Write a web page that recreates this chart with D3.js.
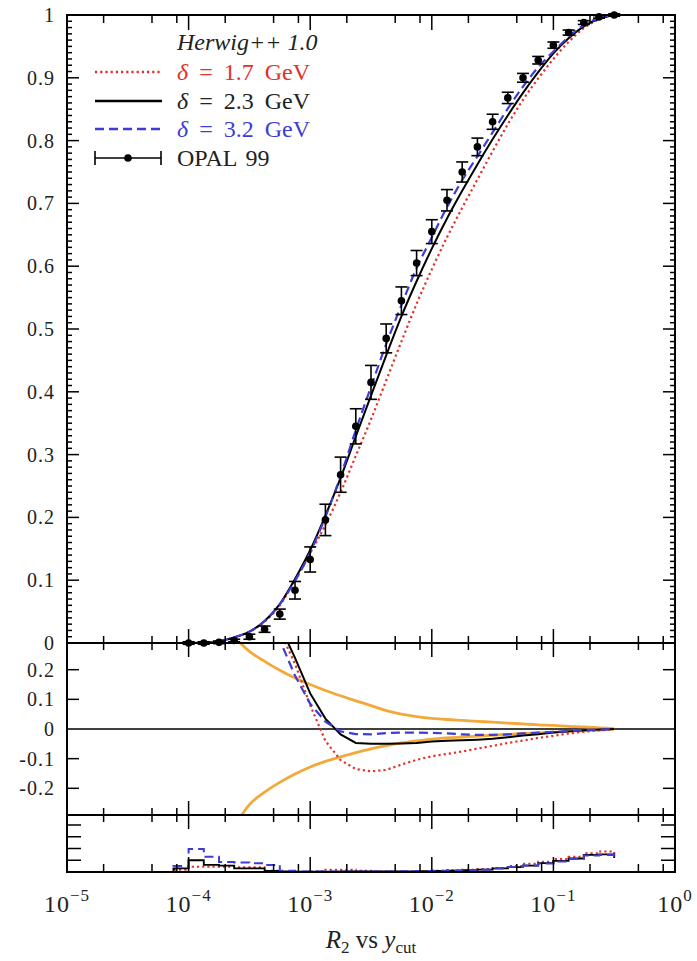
<!DOCTYPE html>
<html>
<head>
<meta charset="utf-8">
<script src="https://cdn.jsdelivr.net/npm/d3@7"></script>
<style>
  body { margin: 0; background: #fff; }
  svg { display: block; font-family: "Liberation Serif", "DejaVu Serif", serif; }
</style>
</head>
<body>
<svg id="chart"></svg>
<script>
// R2 vs ycut : Herwig++ 1.0 vs OPAL 99

// ---- data ----
// OPAL 99 : log10(ycut), R2, error
const opalExp = [-4, -3.875, -3.75, -3.625, -3.5, -3.375, -3.25, -3.125, -3, -2.875, -2.75, -2.625, -2.5, -2.375,
  -2.25, -2.125, -2, -1.875, -1.75, -1.625, -1.5, -1.375, -1.25, -1.125, -1, -0.875, -0.75, -0.625, -0.5];
const opalR2 = [0, 0, 0.001, 0.004, 0.01, 0.022, 0.046, 0.084, 0.133, 0.196, 0.268, 0.345, 0.415, 0.485,
  0.545, 0.605, 0.655, 0.705, 0.75, 0.79, 0.83, 0.868, 0.9, 0.928, 0.952, 0.972, 0.988, 0.997, 1.0];
const opalErr = [0.002, 0.002, 0.002, 0.002, 0.004, 0.005, 0.008, 0.014, 0.02, 0.025, 0.028, 0.028, 0.027, 0.023,
  0.022, 0.02, 0.019, 0.017, 0.016, 0.014, 0.012, 0.009, 0.007, 0.006, 0.005, 0.004, 0.003, 0.002, 0.002];

// Herwig++ curves (main panel)
const curveExp = [-5, -4.5, -4.125, -4, -3.875, -3.75, -3.625, -3.5, -3.375, -3.25, -3.125, -3, -2.875, -2.75,
  -2.625, -2.5, -2.375, -2.25, -2.125, -2, -1.875, -1.75, -1.625, -1.5, -1.375, -1.25, -1.125, -1, -0.875,
  -0.75, -0.625, -0.5];
const r2Delta17 = [0, 0, 0, 0, 0.0008, 0.003, 0.009, 0.018, 0.034, 0.06, 0.1, 0.143, 0.188, 0.24,
  0.298, 0.356, 0.418, 0.48, 0.54, 0.595, 0.646, 0.693, 0.738, 0.783, 0.826, 0.865, 0.899, 0.93, 0.957,
  0.979, 0.993, 1.0];
const r2Delta23 = [0, 0, 0, 0, 0.0008, 0.003, 0.009, 0.018, 0.035, 0.062, 0.102, 0.148, 0.203, 0.263,
  0.329, 0.394, 0.458, 0.52, 0.576, 0.628, 0.676, 0.72, 0.762, 0.802, 0.84, 0.876, 0.909, 0.939, 0.963,
  0.982, 0.994, 1.0];
const r2Delta32 = [0, 0, 0, 0, 0.0008, 0.003, 0.009, 0.018, 0.035, 0.062, 0.099, 0.144, 0.201, 0.266,
  0.339, 0.408, 0.476, 0.538, 0.597, 0.646, 0.694, 0.737, 0.775, 0.813, 0.851, 0.886, 0.917, 0.942, 0.965,
  0.984, 0.995, 1.0];

// ratio panel
const ratioExp = [-3.375, -3.25, -3.125, -3, -2.875, -2.75, -2.625, -2.5, -2.375, -2.25, -2.125, -2,
  -1.875, -1.75, -1.625, -1.5, -1.375, -1.25, -1.125, -1, -0.875, -0.75, -0.625, -0.5];
const ratio17 = [0.6, 0.33, 0.22, 0.08, -0.04, -0.105, -0.135, -0.143, -0.138, -0.12, -0.104, -0.092,
  -0.084, -0.076, -0.066, -0.057, -0.047, -0.039, -0.03, -0.023, -0.015, -0.009, -0.004, 0];
const ratio23 = [0.6, 0.35, 0.24, 0.12, 0.035, -0.018, -0.047, -0.05, -0.05, -0.049, -0.047, -0.042,
  -0.04, -0.038, -0.036, -0.033, -0.028, -0.022, -0.018, -0.012, -0.008, -0.004, -0.002, 0];
const ratio32 = [0.5, 0.3, 0.18, 0.085, 0.025, -0.008, -0.017, -0.018, -0.014, -0.012, -0.012, -0.013,
  -0.015, -0.018, -0.02, -0.02, -0.018, -0.015, -0.012, -0.01, -0.007, -0.004, -0.002, 0];

// data error band
const bandExp = [-3.625, -3.5, -3.375, -3.25, -3.125, -3, -2.875, -2.75, -2.625, -2.5, -2.375, -2.25, -2.125,
  -2, -1.875, -1.75, -1.625, -1.5, -1.375, -1.25, -1.125, -1, -0.875, -0.75, -0.625, -0.5];
const bandUp = [0.31, 0.262, 0.228, 0.198, 0.172, 0.15, 0.13, 0.112, 0.095, 0.079, 0.062, 0.05, 0.042,
  0.036, 0.032, 0.029, 0.026, 0.023, 0.02, 0.017, 0.014, 0.012, 0.009, 0.007, 0.004, 0.001];
const bandLow = [-0.33, -0.255, -0.213, -0.18, -0.152, -0.128, -0.109, -0.094, -0.08, -0.067, -0.056, -0.047, -0.04,
  -0.034, -0.03, -0.027, -0.024, -0.021, -0.018, -0.015, -0.013, -0.011, -0.008, -0.006, -0.004, -0.001];

// bottom panel
const chiExp = [-5, -4.25, -4.125].concat(opalExp);
const chi17 = [0, 0, 0.2, 0.45, 0.45, 0.45, 0.4, 0.4, 0.1, 0, 0, 0.05, 0.2, 0.2, 0.1, 0.05, 0.05, 0.05,
  0.08, 0.1, 0.15, 0.2, 0.25, 0.35, 0.5, 0.7, 0.88, 1.1, 1.3, 1.6, 1.75, 1.4];
const chi23 = [0, 0, 0.3, 1.0, 0.6, 0.55, 0.3, 0.3, 0.1, 0.05, 0.03, 0.03, 0.04, 0.05, 0.05, 0.05, 0.05,
  0.06, 0.08, 0.1, 0.12, 0.15, 0.2, 0.3, 0.42, 0.55, 0.75, 0.95, 1.15, 1.45, 1.5, 1.2];
const chi32 = [0, 0, 0.5, 1.95, 1.3, 0.85, 0.8, 0.75, 0.6, 0.1, 0.04, 0.04, 0.04, 0.05, 0.05, 0.05, 0.05,
  0.06, 0.08, 0.1, 0.12, 0.15, 0.2, 0.3, 0.42, 0.55, 0.72, 0.9, 1.1, 1.4, 1.45, 1.15];

// ticks
const decades = [1e-5, 1e-4, 1e-3, 1e-2, 1e-1, 1];
const decadeLabels = ["−5", "−4", "−3", "−2", "−1", "0"];
const minorMult = [2, 5, 8];
const mainLabels = [0, 0.1, 0.2, 0.3, 0.4, 0.5, 0.6, 0.7, 0.8, 0.9, 1];
const midLabels = [0.2, 0.1, 0, -0.1, -0.2];
const botTicks = [1, 2, 3, 4];

// ---- layout ----
const W = 697, H = 961;
const left = 67, right = 675;
const mainTop = 15, mainBottom = 643, midBottom = 815, botBottom = 872;

const red = "#e2312a", blue = "#3d3dd6", orange = "#f2a93a";

const svg = d3.select("#chart").attr("width", W).attr("height", H);

const x = d3.scaleLog().domain([1e-5, 1]).range([left, right]);
const yMain = d3.scaleLinear().domain([0, 1]).range([mainBottom, mainTop]);
const yMid = d3.scaleLinear().domain([-0.29, 0.29]).range([midBottom, mainBottom]);
const yBot = d3.scaleLinear().domain([0, 4.85]).range([botBottom, midBottom]);

// clip paths
const defs = svg.append("defs");
[["clipMain", mainTop, mainBottom], ["clipMid", mainBottom, midBottom], ["clipBot", midBottom, botBottom]]
  .forEach(([id, t, b]) => {
    defs.append("clipPath").attr("id", id)
      .append("rect").attr("x", left).attr("y", t).attr("width", right - left).attr("height", b - t);
  });

function pts(exps, vals) {
  return exps.map((e, i) => [Math.pow(10, e), vals[i]]);
}

function drawLine(g, data, yScale, color, dash, width, curve) {
  const line = d3.line()
    .x(d => x(d[0]))
    .y(d => yScale(d[1]))
    .curve(curve || d3.curveMonotoneX);
  g.append("path")
    .attr("d", line(data))
    .attr("fill", "none")
    .attr("stroke", color)
    .attr("stroke-width", width || 2)
    .attr("stroke-dasharray", dash || null);
}

// ---- main panel ----
const gMain = svg.append("g").attr("clip-path", "url(#clipMain)");
drawLine(gMain, pts(curveExp, r2Delta17), yMain, red, "2.2,3", 2.2);
drawLine(gMain, pts(curveExp, r2Delta23), yMain, "#000", null, 2);
drawLine(gMain, pts(curveExp, r2Delta32), yMain, blue, "9,5", 2.2);

// OPAL points
const opal = opalExp.map((e, i) => ({ x: Math.pow(10, e), y: opalR2[i], err: opalErr[i] }));
const gData = svg.append("g");
opal.forEach(d => {
  const px = x(d.x);
  const y1 = yMain(d.y - d.err), y2 = yMain(Math.min(d.y + d.err, 1.004));
  gData.append("line").attr("x1", px).attr("x2", px).attr("y1", y1).attr("y2", y2)
    .attr("stroke", "#000").attr("stroke-width", 1.6);
  [y1, y2].forEach(yy => {
    gData.append("line").attr("x1", px - 6).attr("x2", px + 6).attr("y1", yy).attr("y2", yy)
      .attr("stroke", "#000").attr("stroke-width", 1.6);
  });
  gData.append("circle").attr("cx", px).attr("cy", yMain(d.y)).attr("r", 3.8).attr("fill", "#000");
});

// ---- ratio panel ----
const gMid = svg.append("g").attr("clip-path", "url(#clipMid)");
gMid.append("line").attr("x1", left).attr("x2", right).attr("y1", yMid(0)).attr("y2", yMid(0))
  .attr("stroke", "#000").attr("stroke-width", 1.5);
drawLine(gMid, pts(bandExp, bandUp), yMid, orange, null, 2.8);
drawLine(gMid, pts(bandExp, bandLow), yMid, orange, null, 2.8);
drawLine(gMid, pts(ratioExp, ratio17), yMid, red, "2.2,3", 2.2, d3.curveLinear);
drawLine(gMid, pts(ratioExp, ratio23), yMid, "#000", null, 2, d3.curveLinear);
drawLine(gMid, pts(ratioExp, ratio32), yMid, blue, "9,5", 2.2, d3.curveLinear);

// ---- bottom panel ----
const gBot = svg.append("g").attr("clip-path", "url(#clipBot)");
drawLine(gBot, pts(chiExp, chi17), yBot, red, "2.2,3", 2, d3.curveStepAfter);
drawLine(gBot, pts(chiExp, chi23), yBot, "#000", null, 1.8, d3.curveStepAfter);
drawLine(gBot, pts(chiExp, chi32), yBot, blue, "9,5", 2, d3.curveStepAfter);

// ---- frame and ticks ----
const gAx = svg.append("g").attr("stroke", "#000").attr("stroke-width", 1.5);
gAx.append("rect").attr("x", left).attr("y", mainTop).attr("width", right - left)
  .attr("height", botBottom - mainTop).attr("fill", "none").attr("stroke-width", 2);
[mainBottom, midBottom].forEach(yy => {
  gAx.append("line").attr("x1", left).attr("x2", right).attr("y1", yy).attr("y2", yy).attr("stroke-width", 2);
});

const minorX = [];
decades.slice(0, -1).forEach(d => minorMult.forEach(m => minorX.push(d * m)));

function xTick(v, yy, up, down) {
  gAx.append("line").attr("x1", x(v)).attr("x2", x(v)).attr("y1", yy - up).attr("y2", yy + down);
}
decades.forEach(v => {
  xTick(v, mainTop, 0, 15);
  xTick(v, mainBottom, 14, 14);
  xTick(v, midBottom, 14, 14);
  xTick(v, botBottom, 15, 0);
});
minorX.forEach(v => {
  xTick(v, mainTop, 0, 8);
  xTick(v, mainBottom, 7, 7);
  xTick(v, midBottom, 7, 7);
  xTick(v, botBottom, 8, 0);
});

function yTick(yy, len) {
  gAx.append("line").attr("x1", left).attr("x2", left + len).attr("y1", yy).attr("y2", yy);
  gAx.append("line").attr("x1", right - len).attr("x2", right).attr("y1", yy).attr("y2", yy);
}
d3.range(1, 100).forEach(i => yTick(yMain(i / 100), i % 10 === 0 ? 12 : 5));
midLabels.filter(v => v !== 0).forEach(v => yTick(yMid(v), 12));
botTicks.forEach(v => yTick(yBot(v), 14));

// ---- tick labels ----
const gLab = svg.append("g").attr("font-size", 20).attr("fill", "#222").attr("letter-spacing", 1);
mainLabels.forEach(v => {
  gLab.append("text").attr("x", 55).attr("y", yMain(v)).attr("text-anchor", "end")
    .attr("dominant-baseline", "central").text(v);
});
midLabels.forEach(v => {
  gLab.append("text").attr("x", 55).attr("y", yMid(v)).attr("text-anchor", "end")
    .attr("dominant-baseline", "central").text(v < 0 ? "-" + Math.abs(v) : v);
});

decades.forEach((v, i) => {
  const t = gLab.append("text").attr("x", x(v)).attr("y", 912).attr("text-anchor", "middle")
    .attr("font-size", 24);
  t.append("tspan").text("10");
  t.append("tspan").attr("font-size", 17).attr("dy", -11).text(decadeLabels[i]);
});

// axis title
const title = svg.append("text").attr("x", 371).attr("y", 948).attr("text-anchor", "middle")
  .attr("font-size", 25).attr("fill", "#222");
title.append("tspan").attr("font-style", "italic").text("R");
title.append("tspan").attr("font-size", 17).attr("dy", 5).text("2");
title.append("tspan").attr("dy", -5).text(" vs ");
title.append("tspan").attr("font-style", "italic").text("y");
title.append("tspan").attr("font-size", 17).attr("dy", 5).text("cut");

// ---- legend ----
const gLeg = svg.append("g").attr("font-size", 24);
gLeg.append("text").attr("x", 177).attr("y", 42).attr("dominant-baseline", "central")
  .attr("font-style", "italic").attr("fill", "#222").text("Herwig++ 1.0");

const legRows = [
  { y: 72, color: red, dash: "2.2,3", label: "1.7" },
  { y: 101, color: "#000", dash: null, label: "2.3" },
  { y: 129, color: blue, dash: "9,5", label: "3.2" }
];
legRows.forEach(r => {
  gLeg.append("line").attr("x1", 95).attr("x2", 162).attr("y1", r.y).attr("y2", r.y)
    .attr("stroke", r.color).attr("stroke-width", 2.4).attr("stroke-dasharray", r.dash);
  const t = gLeg.append("text").attr("x", 177).attr("y", r.y).attr("dominant-baseline", "central")
    .attr("fill", r.color === "#000" ? "#222" : r.color).attr("word-spacing", 5);
  t.append("tspan").attr("font-style", "italic").text("δ");
  t.append("tspan").text(" = " + r.label + " GeV");
});

// OPAL legend entry
const oy = 158;
gLeg.append("line").attr("x1", 95).attr("x2", 161).attr("y1", oy).attr("y2", oy)
  .attr("stroke", "#000").attr("stroke-width", 1.6);
[95, 161].forEach(xx => {
  gLeg.append("line").attr("x1", xx).attr("x2", xx).attr("y1", oy - 7).attr("y2", oy + 7)
    .attr("stroke", "#000").attr("stroke-width", 1.6);
});
gLeg.append("circle").attr("cx", 128).attr("cy", oy).attr("r", 3.8).attr("fill", "#000");
gLeg.append("text").attr("x", 177).attr("y", oy).attr("dominant-baseline", "central")
  .attr("fill", "#222").attr("word-spacing", 3).text("OPAL 99");
</script>
</body>
</html>
